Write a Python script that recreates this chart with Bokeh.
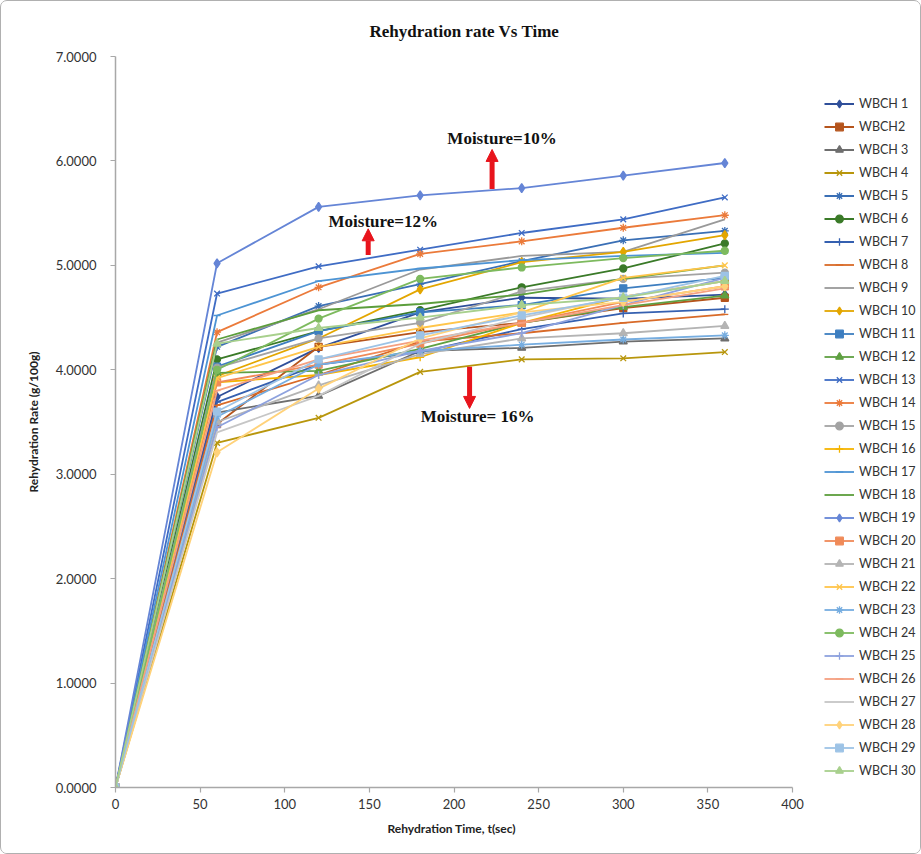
from bokeh.plotting import figure
from bokeh.models import (Legend, LegendItem, Arrow, NormalHead, NumeralTickFormatter,
                          FixedTicker, ColumnDataSource, Range1d, Title)
from bokeh.embed import file_html
from bokeh.resources import INLINE
from bokeh.core.properties import value

# ---------------- data ----------------
times = [0, 60, 120, 180, 240, 300, 360]

wbch1 = [0, 3.74, 4.21, 4.55, 4.69, 4.68, 4.72]
wbch2 = [0, 3.48, 4.22, 4.36, 4.45, 4.59, 4.69]
wbch3 = [0, 3.59, 3.75, 4.18, 4.21, 4.27, 4.30]
wbch4 = [0, 3.30, 3.54, 3.98, 4.10, 4.11, 4.17]
wbch5 = [0, 4.22, 4.61, 4.82, 5.04, 5.24, 5.33]
wbch6 = [0, 4.10, 4.37, 4.57, 4.79, 4.97, 5.21]
wbch7 = [0, 3.69, 4.05, 4.17, 4.39, 4.54, 4.58]
wbch8 = [0, 3.66, 3.95, 4.27, 4.35, 4.45, 4.53]
wbch9 = [0, 4.26, 4.58, 4.96, 5.09, 5.13, 5.44]
wbch10 = [0, 3.94, 4.30, 4.77, 5.03, 5.13, 5.29]
wbch11 = [0, 4.03, 4.37, 4.55, 4.62, 4.78, 4.88]
wbch12 = [0, 3.97, 3.99, 4.20, 4.45, 4.60, 4.71]
wbch13 = [0, 4.73, 4.99, 5.15, 5.31, 5.44, 5.65]
wbch14 = [0, 4.36, 4.79, 5.11, 5.23, 5.36, 5.48]
wbch15 = [0, 4.02, 4.30, 4.45, 4.75, 4.87, 4.93]
wbch16 = [0, 3.88, 3.95, 4.12, 4.45, 4.70, 4.85]
wbch17 = [0, 4.52, 4.85, 4.97, 5.05, 5.09, 5.12]
wbch18 = [0, 4.29, 4.57, 4.63, 4.72, 4.87, 5.00]
wbch19 = [0, 5.02, 5.56, 5.67, 5.74, 5.86, 5.98]
wbch20 = [0, 3.88, 4.05, 4.25, 4.45, 4.65, 4.80]
wbch21 = [0, 3.50, 3.85, 4.15, 4.30, 4.35, 4.42]
wbch22 = [0, 3.92, 4.22, 4.40, 4.55, 4.88, 5.00]
wbch23 = [0, 3.55, 4.05, 4.18, 4.24, 4.29, 4.33]
wbch24 = [0, 4.00, 4.49, 4.87, 4.98, 5.07, 5.14]
wbch25 = [0, 3.45, 3.95, 4.18, 4.35, 4.62, 4.88]
wbch26 = [0, 3.80, 4.10, 4.28, 4.45, 4.62, 4.78]
wbch27 = [0, 3.40, 3.75, 4.25, 4.50, 4.70, 4.85]
wbch28 = [0, 3.21, 3.82, 4.30, 4.55, 4.65, 4.80]
wbch29 = [0, 3.60, 4.10, 4.33, 4.52, 4.69, 4.90]
wbch30 = [0, 4.25, 4.40, 4.50, 4.62, 4.69, 4.85]

series_values = [wbch1, wbch2, wbch3, wbch4, wbch5, wbch6, wbch7, wbch8, wbch9, wbch10,
                 wbch11, wbch12, wbch13, wbch14, wbch15, wbch16, wbch17, wbch18, wbch19, wbch20,
                 wbch21, wbch22, wbch23, wbch24, wbch25, wbch26, wbch27, wbch28, wbch29, wbch30]

series_labels = ["WBCH 1", "WBCH2", "WBCH 3", "WBCH 4", "WBCH 5", "WBCH 6", "WBCH 7",
                 "WBCH 8", "WBCH 9", "WBCH 10", "WBCH 11", "WBCH 12", "WBCH 13", "WBCH 14",
                 "WBCH 15", "WBCH 16", "WBCH 17", "WBCH 18", "WBCH 19", "WBCH 20", "WBCH 21",
                 "WBCH 22", "WBCH 23", "WBCH 24", "WBCH 25", "WBCH 26", "WBCH 27", "WBCH 28",
                 "WBCH 29", "WBCH 30"]

x_ticks = [0, 50, 100, 150, 200, 250, 300, 350, 400]
y_ticks = [0, 1, 2, 3, 4, 5, 6, 7]

note_texts = ["Moisture=10%", "Moisture=12%", "Moisture= 16%"]
note_x = [228.4, 158.2, 213.9]
note_y = [6.21, 5.42, 3.55]
arrow_x = [222.5, 149.3, 209.2]
arrow_y_start = [5.73, 5.10, 4.03]
arrow_y_end = [6.11, 5.35, 3.63]

# ---------------- styles ----------------
colors = ["#2F4F9A", "#B5541C", "#6E6E6E", "#B8960C", "#3A6FB5", "#3A7A28", "#3560B0",
          "#D86A28", "#999999", "#E3A600", "#3D7EC0", "#5FA042", "#3F6CC4", "#EB7A3A",
          "#A3A3A3", "#F5B400", "#4D94D4", "#5C9E3C", "#6585D6", "#F08A58", "#B4B4B4",
          "#FFC54A", "#76ADE0", "#7DBA5E", "#8EA2DE", "#F5A080", "#C6C6C6", "#FFD27A",
          "#9DC3E6", "#A8D08D"]
marker_cycle = ["diamond", "square", "triangle", "x", "asterisk", "circle", "cross", "dash", None]
marker_size = {"diamond": 9, "square": 7, "triangle": 8, "x": 8, "asterisk": 8,
               "circle": 7, "cross": 8, "dash": 7}

# the frame extends under the legend; the x axis itself is bounded to 0..400
p = figure(width=921, height=854, output_backend="svg", toolbar_location=None,
           x_range=Range1d(0, 476.8), y_range=Range1d(0, 7),
           min_border_left=114, min_border_right=0, min_border_top=55, min_border_bottom=68,
           styles={"border": "1px solid #B0B0B0", "border-radius": "7px",
                   "box-sizing": "border-box", "overflow": "hidden"})

p.background_fill_color = "white"
p.border_fill_color = "white"
p.outline_line_color = None
p.xgrid.visible = False
p.ygrid.visible = False

p.title.text = "Rehydration rate Vs Time"
p.title.text_font = "Liberation Serif"
p.title.text_font_style = "bold"
p.title.text_font_size = "17px"
p.title.text_color = "#111111"
p.title.align = "left"
p.title.offset = 254
p.title.standoff = 32

for ax in (p.xaxis[0], p.yaxis[0]):
    ax.axis_line_color = "#A8A8A8"
    ax.axis_line_width = 1.5
    ax.major_tick_line_color = "#A8A8A8"
    ax.major_tick_line_width = 1.2
    ax.major_tick_in = 0
    ax.major_tick_out = 5
    ax.minor_tick_line_color = None
    ax.major_label_text_font = "Lato"
    ax.major_label_text_font_size = "13px"
    ax.major_label_text_color = "#333333"
    ax.axis_label_text_font = "Lato"
    ax.axis_label_text_font_style = "bold"
    ax.axis_label_text_font_size = "12px"
    ax.axis_label_text_color = "#222222"

p.xaxis[0].ticker = FixedTicker(ticks=x_ticks)
p.xaxis[0].bounds = (0, 400)
p.yaxis[0].ticker = FixedTicker(ticks=y_ticks)
p.yaxis[0].formatter = NumeralTickFormatter(format="0.0000")
p.yaxis[0].axis_label = "Rehydration Rate (g/100g)"
p.xaxis[0].major_label_standoff = 6
p.yaxis[0].major_label_standoff = 14
p.yaxis[0].axis_label_standoff = 12

# x axis title, centred under the 0..400 axis
p.add_layout(Title(text="Rehydration Time, t(sec)", align="left", offset=272,
                   vertical_align="bottom",
                   text_font="Lato", text_font_style="bold", text_font_size="12px",
                   text_color="#222222", standoff=14), "below")

items = []
for i, (label, ys) in enumerate(zip(series_labels, series_values)):
    color = colors[i]
    marker = marker_cycle[i % len(marker_cycle)]
    src = ColumnDataSource(dict(x=times, y=ys))
    rends = [p.line("x", "y", source=src, line_color=color, line_width=1.8)]
    if marker is not None:
        rends.append(p.scatter("x", "y", source=src, marker=marker, size=marker_size[marker],
                               fill_color=color, line_color=color, line_width=1.3))
    items.append(LegendItem(label=label, renderers=rends))

legend = Legend(items=items, location=(709, 7), glyph_width=30, glyph_height=19,
                label_height=19, spacing=4, padding=0, margin=0, label_standoff=5,
                label_text_font="Lato", label_text_font_size="12.5px",
                label_text_color="#333333", border_line_color=None,
                background_fill_alpha=0)
p.add_layout(legend, "center")

# annotations
note_src = ColumnDataSource(dict(x=note_x, y=note_y, t=note_texts))
p.text("x", "y", text="t", source=note_src, text_font=value("Liberation Serif"),
       text_font_style="bold", text_font_size="17px", text_align="center",
       text_baseline="middle", text_color="#111111")

for xa, ys, ye in zip(arrow_x, arrow_y_start, arrow_y_end):
    p.add_layout(Arrow(x_start=xa, y_start=ys, x_end=xa, y_end=ye,
                       line_color="#E8141C", line_width=5,
                       end=NormalHead(size=12, fill_color="#E8141C", line_color="#E8141C")))

open("out.html", "w").write(file_html(p, INLINE))
